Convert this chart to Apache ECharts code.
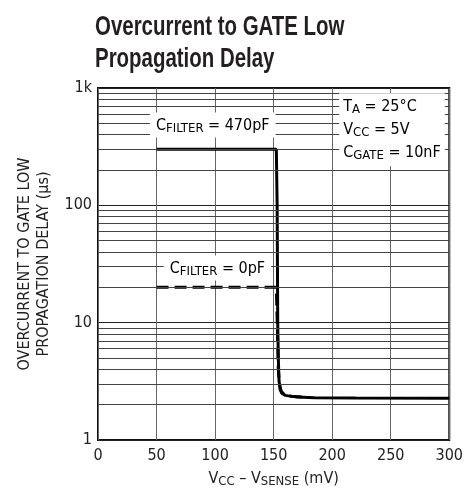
<!DOCTYPE html>
<html>
<head>
<meta charset="utf-8">
<script src="https://cdn.jsdelivr.net/npm/echarts@6/dist/echarts.min.js"></script>
<style>
  html, body { margin: 0; padding: 0; background: #fff; }
  #chart { width: 466px; height: 494px; }
</style>
</head>
<body>
<div id="chart"></div>
<script>
  var FONT = "'Liberation Sans Narrow', 'DejaVu Sans Condensed', sans-serif";

  // data
  var x470 = [50, 152.3, 153, 153.5, 154, 154.6, 155.5, 157, 160, 170, 185, 220, 300];
  var y470 = [300, 300, 100, 10, 5, 3.2, 2.7, 2.5, 2.4, 2.32, 2.29, 2.28, 2.27];
  var x0 = [50, 152.3, 153.3, 154, 155, 156.5, 159, 165, 180];
  var y0 = [20, 20, 8, 4, 3, 2.6, 2.45, 2.36, 2.3];
  var yTickLabels = { 1: '1', 10: '10', 100: '100', 1000: '1k' };
  var minorGrid = [2, 3, 4, 5, 6, 7, 8, 9, 20, 30, 40, 50, 60, 70, 80, 90, 200, 300, 400, 500, 600, 700, 800, 900];

  function pairs(xs, ys) {
    var out = [];
    for (var i = 0; i < xs.length; i++) out.push([xs[i], ys[i]]);
    return out;
  }

  var richText = {
    n: { fontSize: 16, fontFamily: FONT, color: '#222' },
    s: { fontSize: 13, fontFamily: FONT, color: '#222', padding: [6, 0, 0, 0] }
  };

  var chart = echarts.init(document.getElementById('chart'));
  var option = {
    animation: false,
    backgroundColor: '#fff',
    grid: { left: 98, right: 15, top: 88, bottom: 54, show: true, borderColor: '#111', borderWidth: 2 },
    xAxis: {
      type: 'value', min: 0, max: 300, interval: 50,
      name: '{n|V}{s|CC}{n| – V}{s|SENSE}{n| (mV)}',
      nameLocation: 'middle', nameGap: 29,
      nameTextStyle: { rich: richText },
      axisLine: { show: false },
      axisTick: { show: false },
      axisLabel: { fontFamily: FONT, fontSize: 16, color: '#222', margin: 8 },
      splitLine: { show: true, lineStyle: { color: '#666', width: 1 } }
    },
    yAxis: {
      type: 'log', logBase: 10, min: 1, max: 1000,
      name: 'OVERCURRENT TO GATE LOW\nPROPAGATION DELAY (µs)',
      nameLocation: 'middle', nameGap: 45, nameRotate: 90,
      nameTextStyle: { fontFamily: FONT, fontSize: 16, lineHeight: 19, color: '#222' },
      axisLine: { show: false },
      axisTick: { show: false },
      axisLabel: {
        fontFamily: FONT, fontSize: 16, color: '#222', margin: 6,
        formatter: function (v) { return yTickLabels[Math.round(v)] || ''; }
      },
      splitLine: { show: true, lineStyle: { color: '#222', width: 1 } }
    },
    series: [
      {
        type: 'line', data: [], silent: true,
        markLine: {
          silent: true, symbol: 'none', label: { show: false },
          lineStyle: { color: '#444', width: 1, type: 'solid' },
          data: minorGrid.map(function (v) { return { yAxis: v }; })
        }
      },
      {
        name: '0pF', type: 'line', data: pairs(x0, y0), showSymbol: false,
        lineStyle: { color: '#000', width: 3, type: [12, 6] }
      },
      {
        name: '470pF', type: 'line', data: pairs(x470, y470), showSymbol: false,
        lineStyle: { color: '#000', width: 3 }
      }
    ]
  };
  chart.setOption(option);

  function at(x, y) { return chart.convertToPixel({ gridIndex: 0 }, [x, y]); }
  var p1 = at(98, 484);
  var p2 = at(102, 29.3);
  var p3 = at(206, 900);

  chart.setOption({
    graphic: [
      {
        // condensed bold title
        type: 'text', x: 95, y: 11, scaleX: 0.73,
        style: {
          text: 'Overcurrent to GATE Low\nPropagation Delay',
          font: "bold 28px 'Liberation Sans', Arial, sans-serif",
          lineHeight: 32, fill: '#231f20'
        }
      },
      {
        type: 'text', x: p1[0], y: p1[1], z: 100,
        style: {
          text: '{n|C}{s|FILTER}{n| = 470pF}', rich: richText,
          align: 'center', verticalAlign: 'middle',
          backgroundColor: '#fff', padding: [4, 6, 2, 6]
        }
      },
      {
        type: 'text', x: p2[0], y: p2[1], z: 100,
        style: {
          text: '{n|C}{s|FILTER}{n| = 0pF}', rich: richText,
          align: 'center', verticalAlign: 'middle',
          backgroundColor: '#fff', padding: [4, 6, 2, 6]
        }
      },
      {
        type: 'text', x: p3[0], y: p3[1], z: 100,
        style: {
          text: '{n|T}{s|A}{n| = 25°C}\n{n|V}{s|CC}{n| = 5V}\n{n|C}{s|GATE}{n| = 10nF}', rich: richText,
          align: 'left', verticalAlign: 'top', lineHeight: 23,
          backgroundColor: '#fff', padding: [2, 4, 2, 4]
        }
      }
    ]
  });
</script>
</body>
</html>
